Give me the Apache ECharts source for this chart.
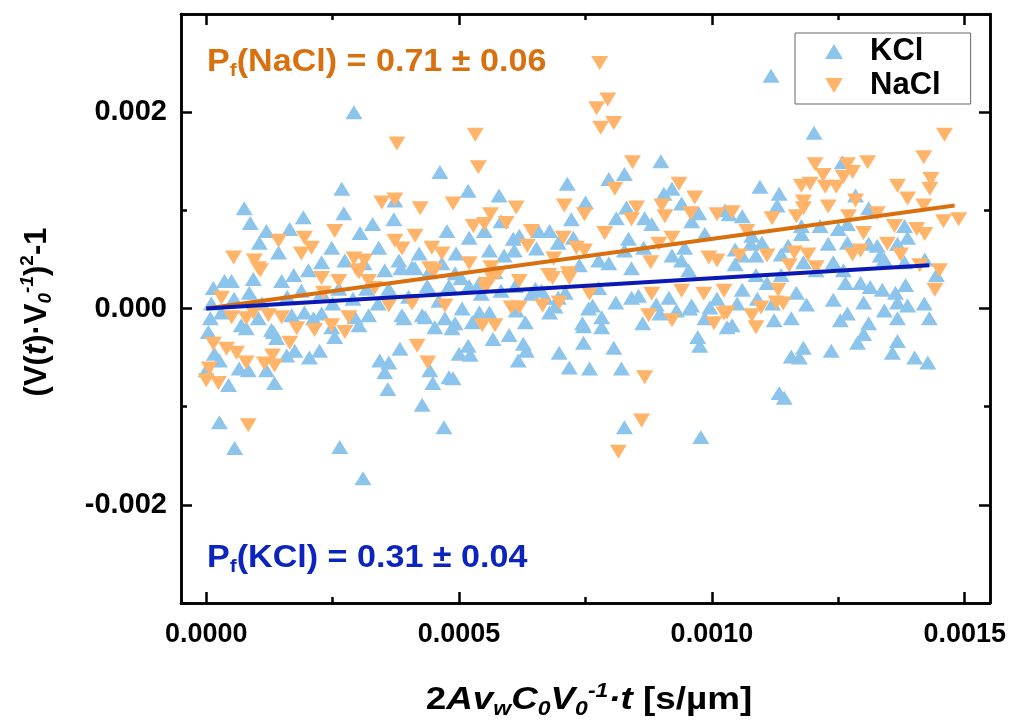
<!DOCTYPE html>
<html>
<head>
<meta charset="utf-8">
<script src="https://cdn.jsdelivr.net/npm/echarts@6/dist/echarts.min.js"></script>
<style>
  html, body { margin: 0; padding: 0; background: #fff; }
  #chart { width: 1016px; height: 722px; }
</style>
</head>
<body>
<div id="chart"></div>
<script>
// values: x in units of 1e-4 s/µm, y in units of 1e-3
const X_UNIT = 1e-4
const Y_UNIT = 1e-3

const KCL_POINTS = [
  [2.92,2.00],[4.62,1.39],[2.68,1.22],[0.75,1.02],[0.87,0.87],[2.72,0.97],[1.92,0.93],[3.73,1.10],[3.71,0.91],[3.29,0.86],
  [1.19,0.79],[1.65,0.81],[3.04,0.77],[4.76,0.79],[1.05,0.67],[1.43,0.57],[2.48,0.62],[3.41,0.62],[0.36,0.28],[0.14,0.21],
  [0.50,0.28],[0.93,0.30],[1.49,0.28],[1.73,0.34],[2.02,0.39],[2.28,0.47],[2.74,0.49],[3.12,0.46],[3.53,0.39],[3.81,0.49],
  [4.07,0.42],[4.21,0.56],[4.40,0.37],[4.66,0.46],[4.92,0.36],
  [0.85,0.16],[1.88,0.18],[2.28,0.16],[2.62,0.20],[3.17,0.20],[3.61,0.20],[3.85,0.41],[4.13,0.41],[4.37,0.23],[4.80,0.23],
  [0.10,0.05],[0.55,0.10],[1.10,0.05],[1.60,0.12],[2.50,0.05],[2.90,0.10],[3.40,0.05],[4.00,0.12],[4.60,0.08],
  [0.30,-0.04],[0.69,-0.17],[1.29,-0.22],[1.69,-0.07],[1.94,-0.04],[2.28,-0.05],[3.02,-0.17],[3.21,-0.07],[3.87,-0.07],[4.27,-0.07],
  [4.52,-0.19],[4.86,-0.20],
  [0.08,-0.10],[0.04,-0.24],[0.79,-0.20],[1.33,-0.24],[1.39,-0.30],[1.75,-0.43],[1.59,-0.48],[2.04,-0.50],[2.24,-0.43],[2.54,-0.29],
  [0.16,-0.46],[0.26,-0.53],[0.00,-0.63],[0.65,-0.61],[0.83,-0.63],[1.19,-0.63],[0.44,-0.78],[1.35,-0.76],[0.26,-1.16],[0.56,-1.42],
  [2.64,-1.41],[3.10,-1.73],[3.43,-0.53],[3.61,-0.55],[3.53,-0.65],[3.59,-0.82],[3.83,-0.41],[3.91,-0.10],[4.27,-0.98],[4.42,-0.63],
  [4.48,-0.76],[4.80,-0.70],[4.70,-1.21],[4.92,-0.15],[5.00,-0.46],[4.33,-0.09],[4.72,-0.10],[2.94,-0.09],[2.48,-0.19],[2.12,-0.10],
  [1.03,-0.10],
  [5.20,0.23],[5.40,0.26],[5.71,0.37],[6.11,0.23],[6.51,0.20],[6.71,0.11],[7.10,0.16],[7.38,0.44],
  [5.06,0.00],[5.26,-0.14],[5.60,-0.04],[6.31,-0.14],[6.79,-0.04],[7.44,-0.15],[7.64,0.03],
  [8.99,1.50],[8.27,1.37],[7.96,1.32],[7.14,1.27],[5.18,1.20],[5.79,1.15],[7.50,1.08],[7.22,0.91],[8.31,1.03],[8.11,0.92],
  [8.67,0.92],[8.81,0.86],[9.05,1.17],[9.21,1.22],[9.40,1.07],[9.60,0.89],[9.74,0.97],[10.26,1.00],[5.20,0.72],[5.50,0.79],
  [5.83,0.89],[6.07,0.71],[6.19,0.74],[6.57,0.79],[6.79,0.79],[6.96,0.67],[7.26,0.72],[8.35,0.71],[8.65,0.62],[9.46,0.62],
  [9.86,0.76],[4.94,0.56],[5.60,0.59],[5.89,0.54],[6.09,0.59],[6.53,0.61],[7.76,0.49],[7.96,0.46],[8.27,0.59],[8.41,0.41],
  [9.21,0.54],[9.40,0.49],[9.54,0.39],[5.04,0.31],[5.44,0.15],[5.83,0.18],[6.43,0.15],[6.63,0.18],[6.96,0.11],[7.76,0.21],
  [8.41,0.11],[8.55,0.13],[9.15,0.11],[9.60,0.03],
  [5.40,-0.04],[6.13,-0.02],[5.67,-0.31],[5.99,-0.27],[5.18,-0.38],[5.22,-0.47],[6.27,-0.36],[6.33,-0.43],[6.17,-0.53],[6.98,-0.45],
  [7.18,-0.60],[7.46,-0.35],[7.46,-0.18],[7.56,0.00],[7.82,-0.19],[7.82,-0.09],[7.58,-0.61],[8.06,-0.40],[8.21,-0.61],[8.63,-0.15],
  [8.97,-0.05],[9.56,0.00],[9.72,-0.29],[9.76,-0.38],[9.96,0.01],[9.86,-0.10],[10.30,-0.19],[4.88,-0.71],[8.27,-1.21],[9.78,-1.31],
  [6.90,0.02],[8.10,0.06],[8.90,0.04],[9.30,-0.02],[10.10,0.10],[10.50,0.05],[10.90,0.10],[11.20,0.05],
  [11.17,2.37],[12.02,1.79],[10.95,1.24],[11.33,1.17],[11.29,1.05],[12.84,1.15],[12.58,1.49],[13.10,1.02],[10.34,0.96],[10.60,0.94],
  [10.79,0.74],[11.77,0.84],[11.77,0.76],[12.14,0.84],[12.50,0.81],[12.68,0.86],[13.81,0.84],[13.87,0.72],[13.67,0.66],[13.27,0.64],
  [13.10,0.66],[12.30,0.66],[12.68,0.67],[11.37,0.55],[11.51,0.64],[10.99,0.67],[10.77,0.66],[10.46,0.60],[10.60,0.54],[10.87,0.54],
  [12.40,0.47],[13.33,0.54],[13.41,0.50],[13.81,0.47],[14.21,0.50],[14.44,0.34],[10.46,0.45],[10.87,0.34],[11.09,0.26],[11.37,0.34],
  [11.81,0.47],[12.06,0.39],[12.60,0.39],[12.64,0.26],[12.94,0.26],[13.13,0.22],[13.37,0.19],[13.63,0.16],[13.83,0.24],[12.40,0.09],
  [11.87,0.04],[11.67,0.16],[10.60,0.19],[13.00,0.06],[13.67,0.06],
  [10.40,-0.17],[11.23,-0.12],[11.57,-0.10],[12.54,-0.12],[12.68,-0.05],[13.41,-0.02],[13.67,-0.10],[13.87,0.03],[13.10,-0.15],
  [13.00,-0.26],[12.88,-0.35],[13.67,-0.33],[13.57,-0.45],[14.01,-0.50],[14.27,-0.55],[12.36,-0.43],[11.81,-0.40],[11.57,-0.49],[11.73,-0.50],
  [11.33,-0.86],[11.43,-0.91],[14.20,0.05],[14.30,-0.10]
]

const NACL_POINTS = [
  [3.77,1.68],[3.47,1.08],[3.73,1.11],[4.23,1.02],[4.88,1.07],[2.54,0.79],[1.43,0.69],[1.94,0.72],[2.08,0.62],[1.88,0.56],
  [0.54,0.52],[0.95,0.49],[1.07,0.39],[2.92,0.51],[3.13,0.49],[3.02,0.37],[3.73,0.69],[4.13,0.74],[3.87,0.61],[4.46,0.62],
  [4.66,0.56],[2.28,0.31],[2.62,0.28],[3.21,0.28],[0.30,0.11],[4.52,0.39],
  [0.79,-0.10],[1.23,-0.07],[1.49,-0.09],[1.79,-0.20],[2.14,-0.22],[2.82,-0.09],[2.32,0.16],[2.98,0.39],[3.33,0.21],[3.61,0.03],
  [4.07,0.05],[4.42,0.41],[4.72,0.03],[1.03,0.41],
  [0.50,-0.09],[0.93,-0.04],[1.65,-0.35],[2.48,-0.17],[2.74,-0.24],[0.14,-0.36],[0.40,-0.41],[0.60,-0.45],[0.79,-0.55],[1.15,-0.56],
  [1.35,-0.58],[1.31,-0.48],[0.06,-0.61],[0.00,-0.73],[0.24,-0.76],[0.83,-1.19],[4.17,-0.38],[4.38,-0.55],
  [5.20,0.46],[5.52,0.21],[5.65,0.31],[6.19,0.28],[6.19,0.01],[6.65,0.03],[6.98,0.06],[6.85,0.31],[7.18,0.31],[7.58,0.15],
  [5.46,-0.17],[5.71,-0.17],
  [7.78,2.50],[7.94,2.13],[7.72,2.04],[7.80,1.84],[8.06,1.89],[5.32,1.77],[5.38,1.44],[8.43,1.49],[6.13,1.03],[7.08,1.05],
  [7.48,0.96],[8.08,1.22],[8.51,1.03],[8.41,0.91],[9.01,1.05],[9.07,0.94],[9.35,1.27],[9.66,1.13],[9.58,0.97],[10.10,0.96],
  [5.28,0.84],[5.50,0.86],[5.62,0.96],[5.93,0.87],[6.43,0.79],[6.35,0.64],[7.06,0.72],[7.32,0.62],[7.48,0.59],[7.88,0.77],
  [9.21,0.72],[8.95,0.66],[8.79,0.47],[6.87,0.51],[5.63,0.42],[5.77,0.36],[5.54,0.25],[6.77,0.34],[7.16,0.36],
  [8.81,0.15],[9.40,0.18],[9.84,0.15],[10.24,0.18],[9.94,0.52],[10.10,0.49],[6.03,0.01],
  [8.75,-0.07],[9.21,-0.12],[10.04,-0.15],[10.24,-0.05],[8.67,-0.70],[8.61,-1.14],[8.15,-1.46],
  [14.60,1.77],[14.19,1.54],[14.33,1.32],[14.31,1.22],[12.04,1.47],[12.20,1.36],[12.68,1.47],[13.08,1.49],[12.78,1.39],[12.60,1.34],
  [11.77,1.25],[11.94,1.27],[12.24,1.24],[12.46,1.24],[12.84,1.10],[11.81,1.09],[11.81,1.02],[12.30,1.04],[13.67,1.25],[13.87,1.12],
  [14.19,1.05],[11.19,0.92],[11.67,0.94],[12.70,0.94],[13.27,0.97],[13.61,0.84],[14.05,0.81],[14.21,0.76],[14.58,0.89],[14.88,0.91],
  [10.40,0.98],[10.69,0.79],[13.00,0.77],[13.47,0.66],[13.73,0.55],[11.09,0.54],[11.63,0.57],[11.90,0.55],[12.78,0.55],[12.94,0.59],
  [11.53,0.44],[12.06,0.42],[10.54,0.54],[14.11,0.44],[14.50,0.39],[14.41,0.19],[11.31,0.19],[11.27,0.06],[10.97,0.01],
  [10.30,-0.04],[10.87,-0.19],[10.79,-0.07],[11.41,0.05]
]

// linear fits through the origin, end points
const KCL_FIT = [[0, 0], [14.3, 0.44]]
const NACL_FIT = [[0, 0], [14.8, 1.05]]

const X_LABELS = [0, 0.0005, 0.0010, 0.0015]
const X_MINOR = [0.00025, 0.00075, 0.00125]
const Y_LABELS = [-0.002, 0, 0.002]
const Y_MINOR = [-0.003, -0.001, 0.001, 0.003]

const SERIES_NAMES = ['KCl', 'NaCl']
const FONT = '"Liberation Sans", Arial, Helvetica, sans-serif'

const toData = (pts) => pts.map((p) => [p[0] * X_UNIT, p[1] * Y_UNIT])

const X_MIN = -0.00005
const X_MAX = 0.00155
const Y_MIN = -0.003
const Y_MAX = 0.003

function axis(dim, position, ticks, len, withLabel) {
  const isX = dim === 'x'
  return {
    type: 'value',
    position,
    min: isX ? X_MIN : Y_MIN,
    max: isX ? X_MAX : Y_MAX,
    splitLine: { show: false },
    axisLine: { show: true, onZero: false, lineStyle: { color: '#000', width: 2.5 } },
    axisTick: { show: true, inside: true, length: len, customValues: ticks, lineStyle: { color: '#000', width: 2.5 } },
    axisLabel: withLabel
      ? {
          show: true,
          customValues: ticks,
          color: '#000',
          fontFamily: FONT,
          fontWeight: 'bold',
          fontSize: isX ? 27 : 29,
          margin: isX ? 18 : 14,
          formatter: (v) => (isX ? v.toFixed(4) : v.toFixed(3)),
        }
      : { show: false },
  }
}

const chart = echarts.init(document.getElementById('chart'))

function richSet(size, sub, color) {
  const base = { fontWeight: 'bold', fontFamily: FONT, fill: color, color }
  return {
    n: { ...base, fontSize: size, lineHeight: size + 6 },
    i: { ...base, fontSize: size, fontStyle: 'italic', lineHeight: size + 6 },
    sb: { ...base, fontSize: sub, fontStyle: 'italic', lineHeight: sub, verticalAlign: 'bottom' },
    s: { ...base, fontSize: sub, lineHeight: sub, verticalAlign: 'bottom' },
    sp: { ...base, fontSize: sub, lineHeight: sub, verticalAlign: 'top' },
    spi: { ...base, fontSize: sub, fontStyle: 'italic', lineHeight: sub, verticalAlign: 'top' },
  }
}

function textEl(x, y, text, rich, align, extra) {
  return Object.assign({
    type: 'text',
    x,
    y,
    style: {
      text,
      rich,
      align,
      verticalAlign: 'middle',
      textAlign: align,
      textVerticalAlign: 'middle',
    },
  }, extra)
}

chart.setOption({
  animation: false,
  backgroundColor: '#fff',
  grid: { left: 181, right: 26, top: 14, bottom: 119, containLabel: false },
  xAxis: [
    axis('x', 'bottom', X_LABELS, 11, true),
    axis('x', 'bottom', X_MINOR, 6, false),
    axis('x', 'top', X_LABELS, 11, false),
    axis('x', 'top', X_MINOR, 6, false),
  ],
  yAxis: [
    axis('y', 'left', Y_LABELS, 11, true),
    axis('y', 'left', Y_MINOR, 6, false),
    axis('y', 'right', Y_LABELS, 11, false),
    axis('y', 'right', Y_MINOR, 6, false),
  ],
  legend: {
    data: [
      { name: 'KCl', icon: 'triangle' },
      { name: 'NaCl', icon: 'path://M0,0L20,0L10,17Z' },
    ],
    orient: 'vertical',
    left: 795,
    top: 33,
    padding: [3, 30, 3, 30],
    itemGap: 3,
    itemWidth: 18,
    itemHeight: 15,
    borderColor: '#666',
    borderWidth: 1,
    formatter: (name) => '{t|' + name + '}',
    textStyle: {
      rich: {
        t: { color: '#000', fontFamily: FONT, fontWeight: 'bold', fontSize: 31, lineHeight: 35, padding: [0, 0, 0, 22] },
      },
    },
  },
  series: [
    {
      name: SERIES_NAMES[0],
      type: 'scatter',
      symbol: 'triangle',
      symbolSize: [17, 14],
      itemStyle: { color: '#8CC4EB', opacity: 1 },
      data: toData(KCL_POINTS),
      z: 2,
    },
    {
      name: SERIES_NAMES[1],
      type: 'scatter',
      symbol: 'triangle',
      symbolRotate: 180,
      symbolSize: [17, 14],
      itemStyle: { color: '#FFB469', opacity: 1 },
      data: toData(NACL_POINTS),
      z: 3,
    },
    {
      name: 'NaCl fit',
      type: 'line',
      data: toData(NACL_FIT),
      symbol: 'none',
      lineStyle: { color: '#D9700F', width: 4 },
      z: 5,
    },
    {
      name: 'KCl fit',
      type: 'line',
      data: toData(KCL_FIT),
      symbol: 'none',
      lineStyle: { color: '#0A18B4', width: 4 },
      z: 5,
    },
  ],
  graphic: [
    textEl(37, 312, '{n|(V(}{i|t}{n|)·V}{sb|0}{spi|-1}{n|)}{sp|2}{n|-1}', richSet(31, 19, '#000'), 'center',
      { rotation: Math.PI / 2 }),
    textEl(589, 700, '{n|2}{i|Av}{sb|w}{i|C}{sb|0}{i|V}{sb|0}{spi|-1}{i|·t}{n| [s/µm]}', richSet(32, 20, '#000'), 'center',
      { scaleX: 1.15 }),
    textEl(207, 62, '{n|P}{s|f}{n|(NaCl) = 0.71 ± 0.06}', richSet(31, 19, '#D9700F'), 'left', { scaleX: 1.1 }),
    textEl(207, 558, '{n|P}{s|f}{n|(KCl) = 0.31 ± 0.04}', richSet(31, 19, '#0B24BE'), 'left', { scaleX: 1.1 }),
  ],
})
</script>
</body>
</html>
